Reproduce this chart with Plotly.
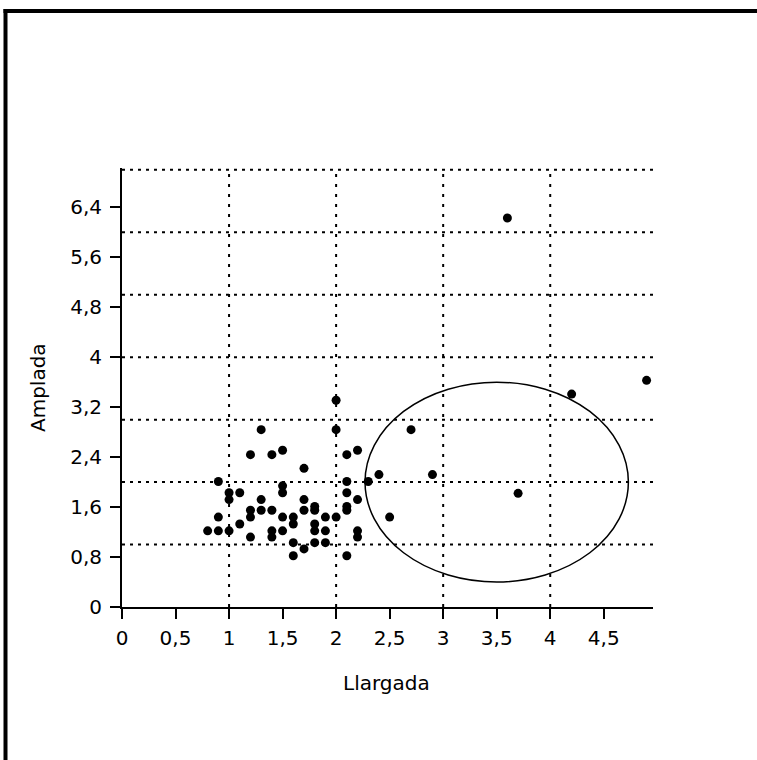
import plotly.graph_objects as go

# Measurements: length (Llargada) and width (Amplada)
llargada = [1.3, 1.2, 1.4, 1.5, 1.7, 0.9, 1.0, 1.0, 1.1, 1.5, 1.5, 1.3, 1.2, 1.2, 1.3, 1.4,
            0.9, 1.1, 0.8, 0.9, 1.0, 1.5, 1.6, 1.6, 1.4, 1.4, 1.5, 1.2, 1.6, 1.6, 1.7, 1.7,
            1.7, 1.8, 1.8, 1.8, 1.8, 1.8, 1.9, 1.9, 1.9, 2.0, 2.0, 2.0, 2.1, 2.2, 2.1, 2.1,
            2.1, 2.1, 2.1, 2.2, 2.2, 2.2, 2.3, 2.4, 2.5, 2.7, 2.9, 3.6, 3.7, 4.2, 4.9]
amplada = [2.84, 2.44, 2.44, 2.51, 2.22, 2.01, 1.83, 1.72, 1.83, 1.94, 1.83, 1.72, 1.55, 1.44, 1.55, 1.55,
           1.44, 1.33, 1.22, 1.22, 1.22, 1.44, 1.44, 1.33, 1.22, 1.12, 1.22, 1.12, 1.03, 0.82, 1.72, 1.55,
           0.93, 1.61, 1.55, 1.33, 1.22, 1.03, 1.44, 1.22, 1.03, 1.44, 3.31, 2.84, 2.44, 2.51, 2.01, 1.83,
           1.61, 1.55, 0.82, 1.72, 1.22, 1.12, 2.01, 2.12, 1.44, 2.84, 2.12, 6.23, 1.82, 3.41, 3.63]

x_tickvals = [0, 0.5, 1, 1.5, 2, 2.5, 3, 3.5, 4, 4.5]
x_ticktext = ["0", "0,5", "1", "1,5", "2", "2,5", "3", "3,5", "4", "4,5"]
y_tickvals = [0, 0.8, 1.6, 2.4, 3.2, 4, 4.8, 5.6, 6.4]
y_ticktext = ["0", "0,8", "1,6", "2,4", "3,2", "4", "4,8", "5,6", "6,4"]

# Grid positions (integers) and the highlighted region
h_grid = [1, 2, 3, 4, 5, 6, 7]
v_grid = [1, 2, 3, 4]
ellipse_center = (3.5, 2.0)
ellipse_radii = (1.23, 1.6)

X_MAX = 4.96
Y_MAX = 7.03

W, H = 757, 760
M_L, M_R, M_T, M_B = 122, 104, 168, 153
PLOT_W = W - M_L - M_R
PLOT_H = H - M_T - M_B


def px_to_paper_x(px):
    return (px - M_L) / PLOT_W


def px_to_paper_y(py):
    return (H - M_B - py) / PLOT_H


FONT = "'DejaVu Sans', sans-serif"
FONT_SIZE = 20

fig = go.Figure()
fig.add_trace(go.Scatter(
    x=llargada, y=amplada, mode="markers",
    marker=dict(color="black", size=9),
    showlegend=False, hoverinfo="x+y",
))

shapes = []
for gy in h_grid:
    shapes.append(dict(type="line", xref="x", yref="y", x0=0, x1=X_MAX, y0=gy, y1=gy,
                       line=dict(color="black", width=2, dash="3px,5px"), layer="below"))
for gx in v_grid:
    shapes.append(dict(type="line", xref="x", yref="y", x0=gx, x1=gx, y0=0, y1=h_grid[-1],
                       line=dict(color="black", width=2, dash="3px,7px"), layer="below"))

cx, cy = ellipse_center
rx, ry = ellipse_radii
shapes.append(dict(type="circle", xref="x", yref="y",
                   x0=cx - rx, x1=cx + rx, y0=cy - ry, y1=cy + ry,
                   line=dict(color="black", width=1.5), layer="above"))

# Outer frame (left and top edges)
shapes.append(dict(type="line", xref="paper", yref="paper",
                   x0=px_to_paper_x(5.5), x1=px_to_paper_x(5.5),
                   y0=px_to_paper_y(9), y1=px_to_paper_y(770),
                   line=dict(color="black", width=4)))
shapes.append(dict(type="line", xref="paper", yref="paper",
                   x0=px_to_paper_x(3.5), x1=px_to_paper_x(770),
                   y0=px_to_paper_y(11), y1=px_to_paper_y(11),
                   line=dict(color="black", width=4)))

title_font = dict(family=FONT, size=FONT_SIZE, color="black")
annotations = [
    dict(text="Llargada", xref="paper", yref="paper",
         x=px_to_paper_x(386), y=px_to_paper_y(683),
         xanchor="center", yanchor="middle", showarrow=False, font=title_font),
    dict(text="Amplada", xref="paper", yref="paper",
         x=px_to_paper_x(38), y=px_to_paper_y(388), textangle=-90,
         xanchor="center", yanchor="middle", showarrow=False, font=title_font),
]

axis_common = dict(
    showline=True, linecolor="black", linewidth=2,
    ticks="outside", ticklen=10, tickwidth=2, tickcolor="black",
    showgrid=False, zeroline=False,
    tickfont=dict(family=FONT, size=FONT_SIZE, color="black"),
    mirror=False,
)

fig.update_layout(
    width=W, height=H,
    margin=dict(l=M_L, r=M_R, t=M_T, b=M_B, pad=0),
    paper_bgcolor="white", plot_bgcolor="white",
    shapes=shapes,
    annotations=annotations,
    xaxis=dict(range=[0, X_MAX], tickvals=x_tickvals, ticktext=x_ticktext,
               ticklabelstandoff=2, **axis_common),
    yaxis=dict(range=[0, Y_MAX], tickvals=y_tickvals, ticktext=y_ticktext,
               ticklabelstandoff=4, **axis_common),
)

fig.write_html("out.html")
